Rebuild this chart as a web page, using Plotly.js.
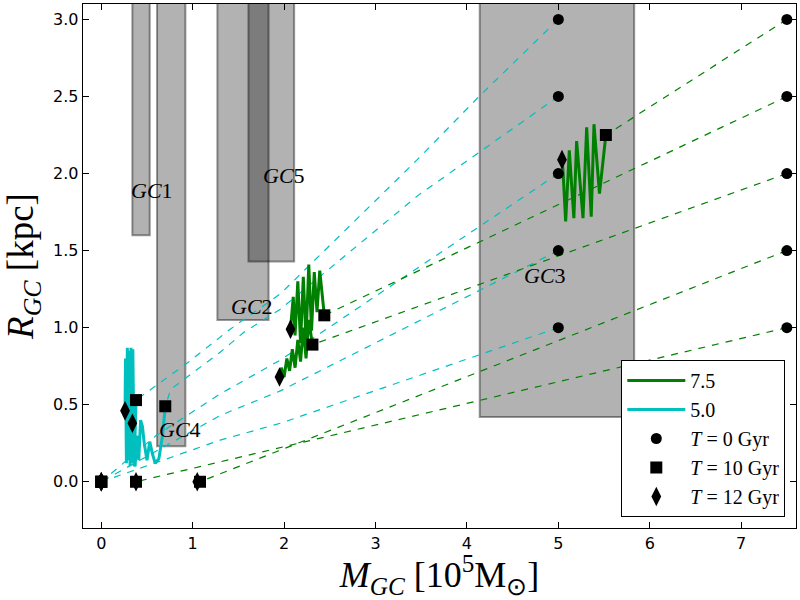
<!DOCTYPE html>
<html>
<head>
<meta charset="utf-8">
<script src="https://cdn.plot.ly/plotly-3.0.1.min.js"></script>
<style>
  html, body { margin: 0; padding: 0; background: #ffffff; }
  #chart { width: 800px; height: 600px; }
</style>
</head>
<body>
<div id="chart"></div>
<script>
// Globular cluster inspiral tracks in the (M_GC, R_GC) plane.

// Observed cluster regions: mass range [1e5 Msun] and lower radius bound [kpc]
const gcNames = ['GC1', 'GC4', 'GC2', 'GC5', 'GC3'];
const gcMassLo = [0.34, 0.61, 1.27, 1.61, 4.14];
const gcMassHi = [0.53, 0.92, 1.83, 2.11, 5.83];
const gcRadLo = [1.60, 0.23, 1.05, 1.43, 0.42];
const gcRadHi = [3.50, 3.50, 3.50, 3.50, 3.50];
const gcLabelX = [0.55, 0.86, 1.65, 2.00, 4.85];
const gcLabelY = [1.89, 0.34, 1.14, 1.99, 1.34];

// Initial mass 7.5: dashed tracks T = 0 -> 10 Gyr
const g1DashX = [7.5, 5.52];  const g1DashY = [3.0, 2.25];
const g2DashX = [7.5, 2.44];  const g2DashY = [2.5, 1.08];
const g3DashX = [7.5, 2.31];  const g3DashY = [2.0, 0.89];
const g4DashX = [7.5, 1.08];  const g4DashY = [1.5, 0.0];
const g5DashX = [7.5, 0.38];  const g5DashY = [1.0, 0.0];

// Initial mass 7.5: solid tracks T = 10 -> 12 Gyr
const g1SolidX = [5.52, 5.45, 5.39, 5.36, 5.31, 5.27, 5.20, 5.17, 5.12, 5.08, 5.05, 5.04];
const g1SolidY = [2.25, 1.87, 2.32, 1.72, 2.30, 1.71, 2.21, 1.71, 2.15, 1.69, 2.03, 2.09];
const g2SolidX = [2.44, 2.39, 2.36, 2.33, 2.30, 2.27, 2.24, 2.21, 2.18, 2.15, 2.12, 2.10, 2.07];
const g2SolidY = [1.08, 1.37, 1.10, 1.36, 0.98, 1.41, 0.92, 1.33, 0.90, 1.30, 0.95, 1.20, 0.99];
const g3SolidX = [2.31, 2.27, 2.24, 2.21, 2.18, 2.15, 2.12, 2.09, 2.06, 2.03, 2.00, 1.97, 1.95];
const g3SolidY = [0.89, 1.05, 0.80, 1.00, 0.78, 0.92, 0.74, 0.86, 0.72, 0.80, 0.68, 0.74, 0.68];

// Initial mass 5.0: dashed tracks T = 0 -> 10 Gyr
const c1DashX = [5.0, 4.15, 3.44, 1.96, 1.41, 0.94, 0.38];
const c1DashY = [3.0, 2.51, 2.08, 1.22, 0.99, 0.77, 0.53];
const c2DashX = [5.0, 3.47, 1.96, 1.56, 1.30, 0.76, 0.70];
const c2DashY = [2.5, 1.86, 1.12, 0.97, 0.84, 0.60, 0.49];
const c3DashX = [5.0, 1.96, 1.30, 0.60, 0.0];
const c3DashY = [2.0, 0.79, 0.57, 0.30, 0.0];
const c4DashX = [5.0, 1.96, 1.30, 0.0];
const c4DashY = [1.5, 0.59, 0.43, 0.0];
const c5DashX = [5.0, 1.96, 1.30, 0.0];
const c5DashY = [1.0, 0.38, 0.27, 0.0];

// Initial mass 5.0: solid tracks T = 10 -> 12 Gyr
const c1SolidX = [0.38, 0.36, 0.345, 0.335, 0.325, 0.315, 0.305, 0.295, 0.285, 0.275, 0.265, 0.26];
const c1SolidY = [0.53, 0.10, 0.86, 0.12, 0.87, 0.10, 0.85, 0.14, 0.87, 0.12, 0.80, 0.46];
const c2SolidX = [0.70, 0.67, 0.63, 0.59, 0.56, 0.53, 0.50, 0.47, 0.45, 0.43, 0.41, 0.39, 0.37, 0.35, 0.34];
const c2SolidY = [0.49, 0.30, 0.15, 0.12, 0.18, 0.26, 0.14, 0.25, 0.36, 0.40, 0.14, 0.30, 0.10, 0.30, 0.38];

// Snapshot markers
const t0X = [5.0, 5.0, 5.0, 5.0, 5.0, 7.5, 7.5, 7.5, 7.5, 7.5];
const t0Y = [3.0, 2.5, 2.0, 1.5, 1.0, 3.0, 2.5, 2.0, 1.5, 1.0];
const t10X = [5.52, 2.44, 2.31, 1.08, 0.38, 0.38, 0.70, 0.0, 0.0, 0.0];
const t10Y = [2.25, 1.08, 0.89, 0.0, 0.0, 0.53, 0.49, 0.0, 0.0, 0.0];
const t12X = [5.04, 2.07, 1.95, 1.05, 0.38, 0.26, 0.34, 0.0, 0.0, 0.0];
const t12Y = [2.09, 0.99, 0.68, 0.0, 0.0, 0.46, 0.38, 0.0, 0.0, 0.0];

const legendNames = ['7.5', '5.0', '<i>T</i> = 0 Gyr', '<i>T</i> = 10 Gyr', '<i>T</i> = 12 Gyr'];

const GREEN = '#008000';
const CYAN = '#00bfbf';
const traces = [];

function dashed(x, y, color) {
  traces.push({ x: x, y: y, type: 'scatter', mode: 'lines', showlegend: false,
    line: { color: color, width: 1.2, dash: '7px,7px' }, hoverinfo: 'skip' });
}
function solid(x, y, color, name, show, rank) {
  traces.push({ x: x, y: y, type: 'scatter', mode: 'lines', name: name, showlegend: show,
    legendgroup: name, legendrank: rank,
    line: { color: color, width: 3, shape: 'linear' } });
}

dashed(c1DashX, c1DashY, CYAN);
dashed(c2DashX, c2DashY, CYAN);
dashed(c3DashX, c3DashY, CYAN);
dashed(c4DashX, c4DashY, CYAN);
dashed(c5DashX, c5DashY, CYAN);
dashed(g1DashX, g1DashY, GREEN);
dashed(g2DashX, g2DashY, GREEN);
dashed(g3DashX, g3DashY, GREEN);
dashed(g4DashX, g4DashY, GREEN);
dashed(g5DashX, g5DashY, GREEN);

solid(g1SolidX, g1SolidY, GREEN, legendNames[0], true, 1);
solid(g2SolidX, g2SolidY, GREEN, legendNames[0], false, 1);
solid(g3SolidX, g3SolidY, GREEN, legendNames[0], false, 1);
solid(c1SolidX, c1SolidY, CYAN, legendNames[1], true, 2);
solid(c2SolidX, c2SolidY, CYAN, legendNames[1], false, 2);

traces.push({ x: t0X, y: t0Y, type: 'scatter', mode: 'markers', name: legendNames[2],
  legendgroup: 't0', legendrank: 3,
  marker: { symbol: 'circle', size: 11, color: '#000000' } });
traces.push({ x: t10X, y: t10Y, type: 'scatter', mode: 'markers', name: legendNames[3],
  legendgroup: 't10', legendrank: 4,
  marker: { symbol: 'square', size: 12, color: '#000000' } });
traces.push({ x: t12X, y: t12Y, type: 'scatter', mode: 'markers', name: legendNames[4],
  legendgroup: 't12', legendrank: 5,
  marker: { symbol: 'diamond-tall', size: 14, color: '#000000' } });

// Shaded regions and their labels
const shapes = gcNames.map((n, i) => ({
  type: 'rect', xref: 'x', yref: 'y', layer: 'below',
  x0: gcMassLo[i], x1: gcMassHi[i], y0: gcRadLo[i], y1: gcRadHi[i],
  fillcolor: 'rgba(0,0,0,0.3)', line: { color: 'rgba(0,0,0,0.4)', width: 2 }
}));
const annotations = gcNames.map((n, i) => ({
  x: gcLabelX[i], y: gcLabelY[i], xref: 'x', yref: 'y', showarrow: false,
  text: '<i>' + n.slice(0, 2) + '</i>' + n.slice(2),
  font: { family: 'Liberation Serif, serif', size: 22, color: '#000000' }
}));

const axisCommon = {
  showgrid: false, zeroline: false, showline: true, linecolor: '#000000', linewidth: 1.3,
  mirror: 'allticks', ticks: 'inside', ticklen: 6, tickwidth: 1, tickcolor: '#000000',
  tickfont: { family: 'DejaVu Sans, sans-serif', size: 16, color: '#000000' }
};

const layout = {
  width: 800, height: 600,
  margin: { l: 83, r: 4, t: 4, b: 72 },
  paper_bgcolor: '#ffffff', plot_bgcolor: '#ffffff',
  xaxis: Object.assign({}, axisCommon, {
    range: [-0.2, 7.6], tickvals: [0, 1, 2, 3, 4, 5, 6, 7],
    title: { text: '<i>M</i><sub><i>GC</i></sub> [10<sup>5</sup>M<sub>⊙</sub>]', standoff: 13,
      font: { family: 'Liberation Serif, serif', size: 36, color: '#000000' } }
  }),
  yaxis: Object.assign({}, axisCommon, {
    range: [-0.3, 3.1], tickvals: [0, 0.5, 1, 1.5, 2, 2.5, 3], tickformat: '.1f',
    title: { text: '<i>R</i><sub><i>GC</i></sub> [kpc]', standoff: 8,
      font: { family: 'Liberation Serif, serif', size: 37, color: '#000000' } }
  }),
  shapes: shapes,
  annotations: annotations,
  showlegend: true,
  legend: {
    x: 0.985, y: 0.021, xanchor: 'right', yanchor: 'bottom',
    bgcolor: '#ffffff', bordercolor: '#000000', borderwidth: 1,
    tracegroupgap: 0, itemwidth: 58,
    font: { family: 'Liberation Serif, serif', size: 20, color: '#000000' }
  }
};

Plotly.newPlot('chart', traces, layout, { displayModeBar: false, staticPlot: true });
</script>
</body>
</html>
